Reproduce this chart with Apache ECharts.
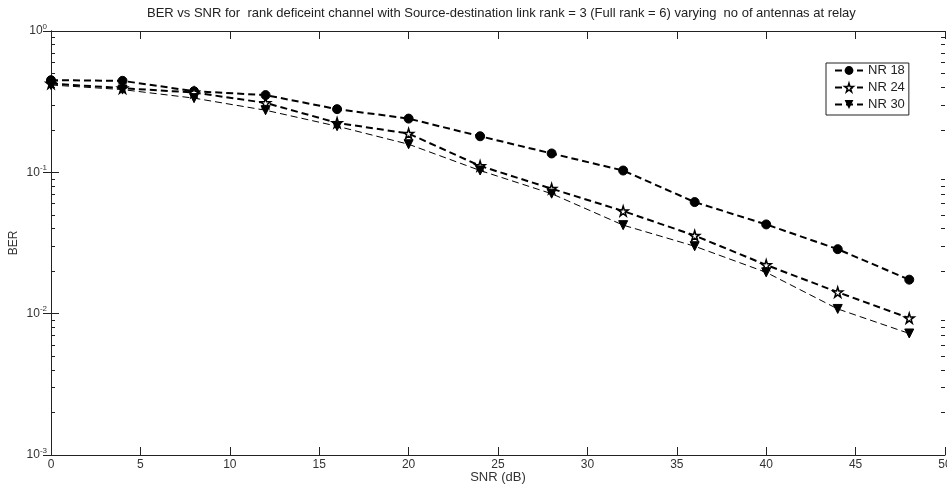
<!DOCTYPE html>
<html>
<head>
<meta charset="utf-8">
<script src="https://cdn.jsdelivr.net/npm/echarts@6/dist/echarts.min.js"></script>
<style>
html,body{margin:0;padding:0;background:#fff;}
#chart{width:947px;height:485px;}
</style>
</head>
<body>
<div id="chart"></div>
<script>
const snr = [0, 4, 8, 12, 16, 20, 24, 28, 32, 36, 40, 44, 48];
const nr18 = [0.449, 0.444, 0.375, 0.352, 0.28, 0.24, 0.18, 0.136, 0.103, 0.0616, 0.0428, 0.0286, 0.0174];
const nr24 = [0.425, 0.394, 0.367, 0.31, 0.224, 0.188, 0.111, 0.0766, 0.0532, 0.0357, 0.0221, 0.0142, 0.0093];
const nr30 = [0.415, 0.385, 0.335, 0.275, 0.212, 0.158, 0.103, 0.0706, 0.0423, 0.030, 0.0196, 0.0108, 0.00724];
const xTicks = [0, 5, 10, 15, 20, 25, 30, 35, 40, 45, 50];
const yMajor = [0.001, 0.01, 0.1, 1];
const yMinor = [];
[0.001, 0.01, 0.1].forEach(d => { for (let k = 2; k <= 9; k++) yMinor.push(+(d * k).toPrecision(3)); });

const pair = arr => snr.map((x, i) => [x, arr[i]]);
const starPath = 'path://M50,0 L61,35 L98,35 L68,57 L79,91 L50,70 L21,91 L32,57 L2,35 L39,35 Z';
const FONT = 'Liberation Sans, Arial, sans-serif';
const axisCol = '#222';
const txtCol = '#333';

const chart = echarts.init(document.getElementById('chart'));
const majorY = (pos, labels) => ({
  type: 'log', logBase: 10, min: 0.001, max: 1, position: pos,
  axisLine: { show: true, lineStyle: { color: axisCol, width: 1 } },
  axisTick: { show: true, inside: true, length: 8, customValues: yMajor, lineStyle: { color: axisCol } },
  axisLabel: labels ? {
    show: true, customValues: yMajor, margin: 4,
    formatter: v => '{b|10}{s|' + Math.round(Math.log10(v)) + '}',
    rich: {
      b: { fontSize: 12, fontFamily: FONT, color: txtCol },
      s: { fontSize: 8, fontFamily: FONT, color: txtCol, padding: [0, 0, 9, 0] }
    }
  } : { show: false },
  splitLine: { show: false },
  name: labels ? 'BER' : '', nameLocation: 'middle', nameGap: 31, nameMoveOverlap: false,
  nameTextStyle: { fontSize: 12, fontFamily: FONT, color: txtCol }
});
const minorY = pos => ({
  type: 'log', logBase: 10, min: 0.001, max: 1, position: pos,
  axisLine: { show: false },
  axisTick: { show: true, inside: true, length: 4, customValues: yMinor, lineStyle: { color: axisCol } },
  axisLabel: { show: false },
  splitLine: { show: false }
});
const xAx = (pos, labels) => ({
  type: 'value', min: 0, max: 50, interval: 5, position: pos,
  axisLine: { show: true, onZero: false, lineStyle: { color: axisCol, width: 1 } },
  axisTick: { show: true, inside: true, length: 8, lineStyle: { color: axisCol } },
  axisLabel: labels ? { show: true, fontSize: 12, fontFamily: FONT, color: txtCol, margin: 4, customValues: xTicks } : { show: false },
  splitLine: { show: false },
  name: labels ? 'SNR (dB)' : '', nameLocation: 'middle', nameGap: 16, nameMoveOverlap: false,
  nameTextStyle: { fontSize: 13, fontFamily: FONT, color: txtCol }
});

chart.setOption({
  animation: false,
  backgroundColor: '#fff',
  title: {
    text: 'BER vs SNR for  rank deficeint channel with Source-destination link rank = 3 (Full rank = 6) varying  no of antennas at relay',
    left: 142, top: 2,
    textStyle: { fontSize: 13, fontWeight: 'normal', fontFamily: FONT, color: '#222' }
  },
  grid: { left: 51, right: 2, top: 31, bottom: 30, containLabel: false, outerBoundsMode: 'none' },
  xAxis: [xAx('bottom', true), xAx('top', false)],
  yAxis: [majorY('left', true), majorY('right', false), minorY('left'), minorY('right')],
  legend: {
    orient: 'vertical', left: 826, top: 63,
    padding: [1, 4, 4, 8], itemGap: 4, itemWidth: 28, itemHeight: 11,
    borderColor: '#222', borderWidth: 1, backgroundColor: '#fff',
    textStyle: { fontSize: 13, fontFamily: FONT, color: '#222' },
    data: [
      { name: 'NR 18' },
      { name: 'NR 24', itemStyle: { color: '#fff', borderColor: '#000', borderWidth: 1.5 } },
      { name: 'NR 30' }
    ]
  },
  series: [
    { name: 'NR 18', type: 'line', data: pair(nr18), xAxisIndex: 0, yAxisIndex: 0,
      symbol: 'circle', symbolSize: 9,
      itemStyle: { color: '#000', borderColor: '#000' },
      lineStyle: { color: '#000', width: 2, type: [7, 4] } },
    { name: 'NR 24', type: 'line', data: pair(nr24), xAxisIndex: 0, yAxisIndex: 0,
      symbol: starPath, symbolSize: 10,
      itemStyle: { color: '#fff', borderColor: '#000', borderWidth: 1.5 },
      lineStyle: { color: '#000', width: 2, type: [7, 4] } },
    { name: 'NR 30', type: 'line', data: pair(nr30), xAxisIndex: 0, yAxisIndex: 0,
      symbol: 'triangle', symbolRotate: 180, symbolSize: 9,
      itemStyle: { color: '#000', borderColor: '#000' },
      lineStyle: { color: '#000', width: 1, type: [7, 4] } }
  ]
});
</script>
</body>
</html>
